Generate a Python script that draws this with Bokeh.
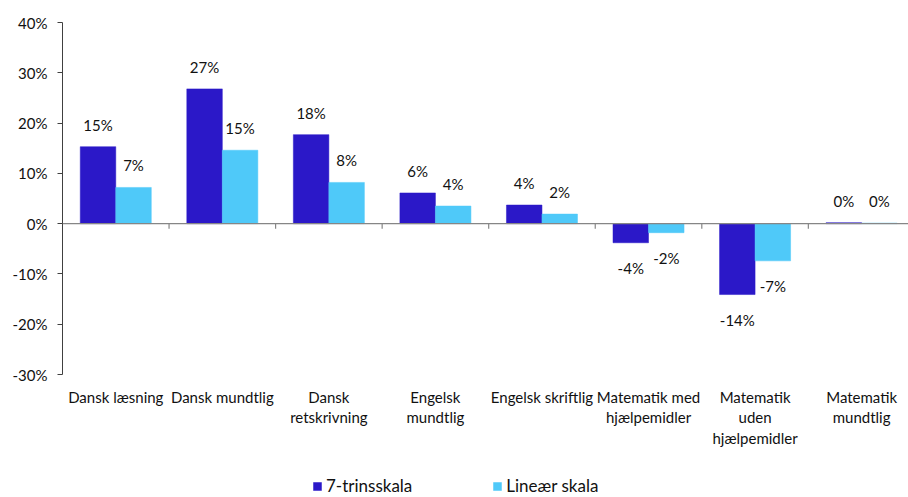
from bokeh.plotting import figure
from bokeh.models import (Range1d, LinearAxis, FixedTicker, ColumnDataSource, Legend,
                          LegendItem, PrintfTickFormatter, Span)
from bokeh.core.properties import value
from bokeh.embed import file_html
from bokeh.resources import INLINE

categories = ["Dansk læsning", "Dansk mundtlig", "Dansk\nretskrivning", "Engelsk\nmundtlig",
              "Engelsk skriftlig", "Matematik med\nhjælpemidler", "Matematik\nuden\nhjælpemidler",
              "Matematik\nmundtlig"]
series_names = ["7-trinsskala", "Lineær skala"]
trin7 = [15.3, 26.8, 17.7, 6.1, 3.7, -3.8, -14.1, 0.2]
linear = [7.2, 14.6, 8.2, 3.5, 1.9, -1.8, -7.4, 0.1]
y_ticks = [-30, -20, -10, 0, 10, 20, 30, 40]

colors = ["#2B18C8", "#4FC9F9"]
FONT = "Lato"
TXT = "#111111"
TICK_LEN = 1.0  # separator tick length (in % units, ~5px)

# layout (pixels)
W, H = 908, 497
LEFT, TOP = 62, 22
AXIS_PX = 352            # pixel height of the value axis (-30%..40%)
n = len(categories)
centers = [i + 0.5 for i in range(n)]
bar_w = 1 / 3
ppu = AXIS_PX / (y_ticks[-1] - y_ticks[0])
y_bottom = y_ticks[-1] - (H - TOP) / ppu

p = figure(width=W, height=H, output_backend="svg", toolbar_location=None,
           x_range=Range1d(0, 7.94), y_range=Range1d(y_bottom, y_ticks[-1]),
           x_axis_type=None, y_axis_type=None,
           min_border_left=LEFT, min_border_top=TOP, min_border_right=0, min_border_bottom=0)
p.outline_line_color = None
p.background_fill_color = "white"
p.border_fill_color = "white"

# y axis
yaxis = LinearAxis(ticker=FixedTicker(ticks=y_ticks), formatter=PrintfTickFormatter(format="%d%%"),
                   bounds=(y_ticks[0], y_ticks[-1]),
                   axis_line_color="#404040", major_tick_line_color="#404040",
                   major_tick_out=5, major_tick_in=0, minor_tick_line_color=None,
                   major_label_standoff=10, major_label_text_font=FONT,
                   major_label_text_font_size="15px", major_label_text_color=TXT)
p.add_layout(yaxis, "left")

# category labels under the value axis
p.text(x=centers, y=[y_ticks[0]] * n, text=categories, y_offset=13,
       text_align="center", text_baseline="top", text_font=value(FONT),
       text_font_size="15px", text_color=TXT, text_line_height=1.14)

renderers = []
for k, (vals, col) in enumerate(zip([trin7, linear], colors)):
    off = (k - 0.5) * bar_w
    src = ColumnDataSource(dict(
        x=[c + off for c in centers],
        top=vals,
        lab=[f"{v:.0f}%" for v in vals],
        yoff=[-22 if v >= 0 else 25 for v in vals],
    ))
    r = p.vbar(x="x", top="top", bottom=0, width=bar_w, source=src,
               fill_color=col, line_color=col, line_width=0.5)
    p.text(x="x", y="top", text="lab", y_offset="yoff", source=src,
           text_align="center", text_baseline="middle", text_font=value(FONT),
           text_font_size="15px", text_color=TXT)
    renderers.append(r)

# zero line and category separators
p.add_layout(Span(location=0, dimension="width", line_color="#868686", line_width=1.2))
seps = list(range(1, n))
p.segment(x0=seps, x1=seps, y0=[0] * len(seps), y1=[-TICK_LEN] * len(seps),
          line_color="#868686", line_width=1.2)

legend = Legend(items=[LegendItem(label=series_names[i], renderers=[renderers[i]]) for i in range(2)],
                orientation="horizontal", location=(250, 1), glyph_width=10, glyph_height=10,
                label_height=16, label_standoff=4, spacing=80, padding=0, margin=0,
                border_line_color=None, background_fill_alpha=0, label_text_font=FONT,
                label_text_font_size="17px", label_text_color=TXT)
p.add_layout(legend, "center")

open("out.html", "w").write(file_html(p, INLINE))
